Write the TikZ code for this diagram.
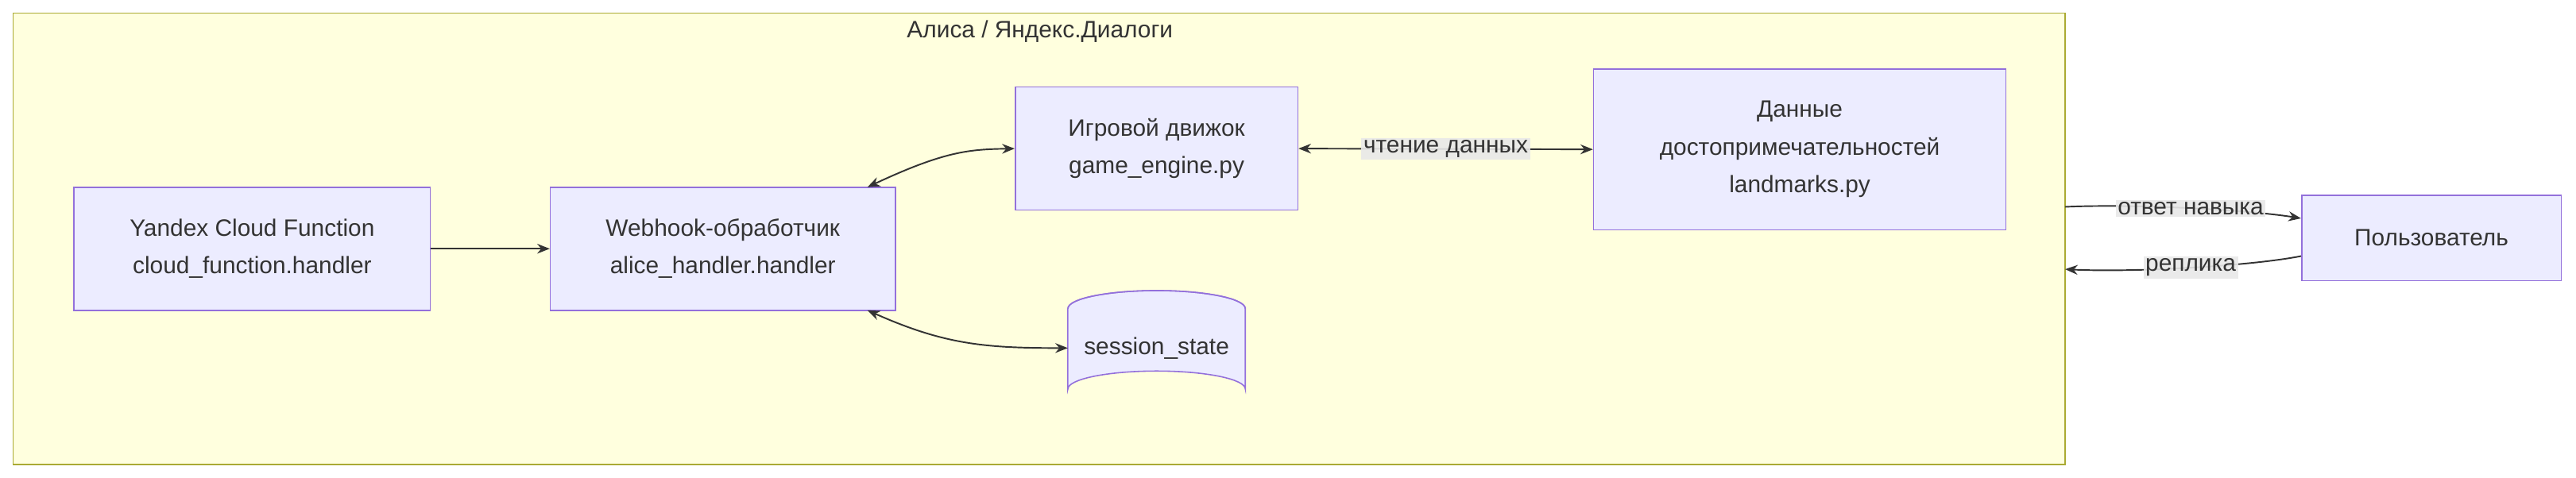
\documentclass[tikz,border=0pt]{standalone}
\usepackage{fontspec}
\setmainfont{Liberation Sans}
\usetikzlibrary{arrows.meta}
\definecolor{nodefill}{HTML}{ECECFF}
\definecolor{nodeline}{HTML}{9370DB}
\definecolor{clfill}{HTML}{FFFFDE}
\definecolor{clline}{HTML}{AAAA33}
\definecolor{ink}{HTML}{333333}
\definecolor{lbl}{HTML}{E8E8E8}
\begin{document}
\begin{tikzpicture}[x=0.04136cm,y=-0.04136cm,
  box/.style={draw=nodeline,fill=nodefill,line width=0.9pt,align=center,font=\fontsize{17}{27}\selectfont,text=ink,inner sep=0pt},
  edge/.style={draw=ink,line width=1.1pt,-{Stealth[length=9pt,width=7pt]}},
  both/.style={edge,{Stealth[length=9pt,width=7pt]}-{Stealth[length=9pt,width=7pt]}},
  lab/.style={fill=lbl,fill opacity=0.9,text opacity=1,font=\fontsize{17}{20}\selectfont,text=ink,inner sep=1.5pt}]
\useasboundingbox (0,0) rectangle (1568,291);
\draw[fill=clfill,draw=clline,line width=0.9pt] (8,8) rectangle (1257,283);
\node[font=\fontsize{17}{20}\selectfont,text=ink] (title) at (633,19) {Алиса / Яндекс.Диалоги};
\coordinate (clR1) at (1257,126);
\coordinate (clR2) at (1257,164);
\node[box,minimum width=8.975cm,minimum height=3.10cm] (A) at (153.5,151.5) {Yandex Cloud Function\\cloud\_function.handler};
\node[box,minimum width=8.686cm,minimum height=3.10cm] (B) at (440,151.5) {Webhook-обработчик\\alice\_handler.handler};
\node[box,minimum width=7.114cm,minimum height=3.10cm] (C) at (704,90.5) {Игровой движок\\game\_engine.py};
\node[box,minimum width=10.38cm,minimum height=4.053cm] (D) at (1095.5,91) {Данные\\достопримечательностей\\landmarks.py};
\node[box,minimum width=6.535cm,minimum height=2.151cm] (U) at (1480,145) {Пользователь};
% cylinder
\draw[draw=nodeline,fill=nodefill,line width=0.9pt] (650,188) -- (650,237) arc[start angle=180,end angle=360,x radius=54,y radius=11] -- (758,188) arc[start angle=0,end angle=-180,x radius=54,y radius=11] -- cycle;
\draw[draw=nodeline,line width=0.9pt] (650,188) arc[start angle=180,end angle=360,x radius=54,y radius=11];
\node[font=\fontsize{17}{20}\selectfont,text=ink,minimum width=4.467cm,minimum height=2.937cm,inner sep=0pt] (E) at (704,212) {session\_state};
\draw[edge] (A) -- (B);
\draw[both] (528,114) .. controls (575,92) and (590,91) .. (C.west);
\draw[both] (528,189) .. controls (575,210) and (600,212) .. (650,212);
\draw[both] (C.east) -- node[lab] {чтение данных} (D.west);
\draw[edge] (clR1) .. controls (1300,124) and (1370,128) .. node[lab,pos=0.5] {ответ навыка} (U.west|-0,133);
\draw[edge] (U.west|-0,156) .. controls (1370,162) and (1300,166) .. node[lab,pos=0.5] {реплика} (clR2);
\end{tikzpicture}
\end{document}
